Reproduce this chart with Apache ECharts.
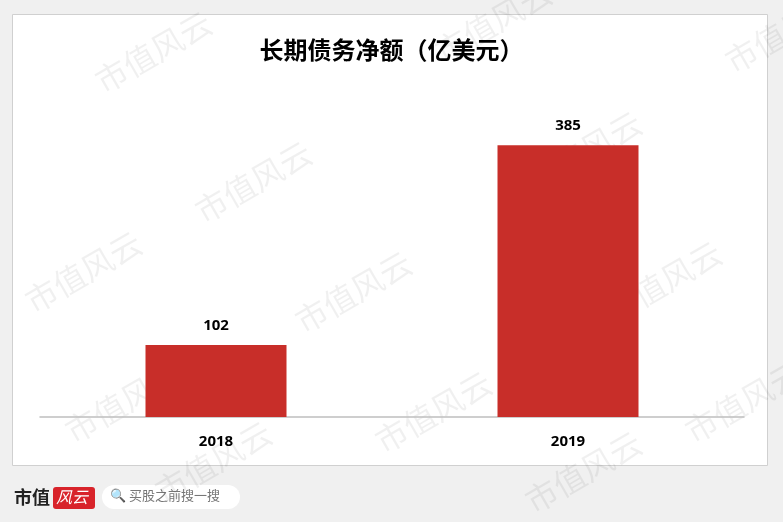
<!DOCTYPE html>
<html>
<head>
<meta charset="utf-8">
<script src="https://cdn.jsdelivr.net/npm/echarts@6/dist/echarts.min.js"></script>
<style>html,body{margin:0;padding:0;background:#f0f0f0;}</style>
</head>
<body>
<div id="main" style="width:783px;height:522px;"></div>
<script>
var years = ['2018', '2019'];
var debt = [102, 385];

var chart = echarts.init(document.getElementById('main'));
// watermark positions
var marks = [];
var wm = [[90,70],[430,40],[720,50],[190,200],[520,170],[20,290],[290,310],[600,300],[60,420],[370,430],[680,420],[150,480],[520,490]];
wm.forEach(function (p) {
    marks.push({type:'text', x:p[0], y:p[1], rotation:Math.PI/6, z:0,
        style:{text:'市值风云', fill:'rgba(0,0,0,0.06)', font:'32px "Noto Sans CJK SC"'}});
});
chart.setOption({
    backgroundColor: '#f0f0f0',
    title: {
        text: '长期债务净额（亿美元）', left: 'center', top: 33,
        textStyle: {fontSize: 24, fontWeight: 'bold', color: '#000', fontFamily: 'Noto Sans CJK SC'}
    },
    graphic: [
        {type:'rect', shape:{x:12.5,y:14.5,width:755,height:451}, z:-10,
            style:{fill:'#fff', stroke:'#d0d0d0', lineWidth:1}},
        {type:'text', x:14, y:488, style:{text:'市值', fill:'#222', font:'bold 18px "Noto Sans CJK SC"'}},
        {type:'rect', shape:{x:53,y:487,width:42,height:22,r:3}, style:{fill:'#d8232a'}},
        {type:'text', x:56, y:489, style:{text:'风云', fill:'#fff', font:'italic 16px "Noto Sans CJK SC"'}},
        {type:'rect', shape:{x:102,y:485,width:138,height:24,r:12}, style:{fill:'#fff'}},
        {type:'text', x:110, y:489, style:{text:'🔍 买股之前搜一搜', fill:'#777', font:'13px "Noto Sans CJK SC"'}}
    ].concat(marks),
    grid: {left: 40, right: 39, top: 64, bottom: 105},
    xAxis: {
        type: 'category', data: years,
        axisLine: {lineStyle: {color: '#bfbfbf', width: 1.5}},
        axisTick: {show: false},
        axisLabel: {color: '#000', fontSize: 15, fontWeight: 'bold', margin: 17, fontFamily: 'Noto Sans'}
    },
    yAxis: {type: 'value', min: 0, max: 500, show: false, splitLine: {show: false}},
    series: [{
        type: 'bar', data: debt, barWidth: 141,
        itemStyle: {color: '#c82e29'},
        label: {show: true, position: 'top', distance: 12, color: '#000', fontSize: 15, fontWeight: 'bold', fontFamily: 'Noto Sans'}
    }]
});
</script>
</body>
</html>
